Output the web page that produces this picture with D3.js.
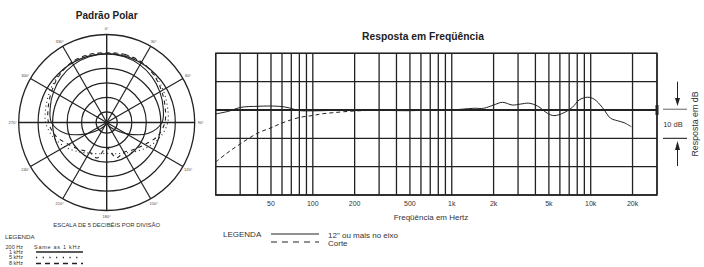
<!DOCTYPE html>
<html>
<head>
<meta charset="utf-8">
<script src="https://cdn.jsdelivr.net/npm/d3@7"></script>
<style>
  body { margin: 0; background: #fff; }
  svg { display: block; font-family: "Liberation Sans", Arial, sans-serif; }
</style>
</head>
<body>
<script>
// frequency response (12" or more on axis)
const respFreq = [20, 25, 30, 40, 49, 60, 68, 80, 100, 200, 500, 700, 1000, 1200, 1440, 1700, 2000, 2320, 2730, 3140, 3580, 4140, 4880, 5440, 6430, 7390, 8240, 9470, 10600, 12100, 13900, 15600, 17400, 19600];
const respDb   = [-1.4, -0.4, 0.9, 1.3, 1.4, 1.2, 0.7, -0.2, -0.3, 0, -0.25, 0, 0, 0.3, 0.6, 0.6, 1.75, 2.7, 1.75, 2.1, 2.4, 1.4, -1.15, -2.0, -0.95, 0.95, 3.5, 4.5, 3.8, 0.95, -2.9, -3.8, -4.5, -5.9];
// low cut ("Corte")
const cutFreq = [20, 23.7, 30, 40, 50, 60, 80, 100, 115, 144, 200, 290, 500, 1000];
const cutDb   = [-18.4, -15.5, -12, -8.2, -6.3, -4.6, -2.65, -1.95, -1.4, -0.9, -0.35, -0.1, 0, 0];

const freqTicks = [50, 100, 200, 500, 1000, 2000, 5000, 10000, 20000];
const freqTickLabels = ["50", "100", "200", "500", "1k", "2k", "5k", "10k", "20k"];
const dbGrid = [20, 10, 0, -10, -20, -30];

// polar pattern, angle from front (one side, mirrored)
const polarAngles = [0, 15, 30, 45, 60, 75, 90, 105, 120, 135, 150, 165, 180];
const pol1k = [0, -0.2, -0.7, -1.5, -2.5, -3.5, -4.6, -9, -16, -20.5, -22.5, -23.5, -24];
const pol5k = [0.2, 0.4, 0.3, -0.4, -1.2, -2.0, -2.6, -4.5, -7, -9.5, -11.5, -12.5, -13];
const pol8k = [0.4, 0.6, 0.4, -0.6, -1.8, -2.8, -3.6, -5.5, -8.5, -10.5, -11.8, -11, -15];
const ringDb = [0, -5, -10, -15, -20];
const spokeAngles = [0, 30, 60, 90, 120, 150, 180, 210, 240, 270, 300, 330];

const W = 704, H = 267;
const svg = d3.select("body").append("svg")
    .attr("width", W)
    .attr("height", H);

const ink = "#222";

// ---------- frequency response ----------
const x = d3.scaleLog().domain([20, 30000]).range([215.7, 657]);
const y = d3.scaleLinear().domain([20, -30]).range([53.3, 195]);

const fr = svg.append("g");

fr.append("text")
    .attr("x", 423).attr("y", 39.5)
    .attr("text-anchor", "middle")
    .attr("font-size", 10.3).attr("font-weight", "bold")
    .attr("fill", ink)
    .text("Resposta em Freqüência");

// vertical grid
fr.selectAll("line.vg")
  .data(x.ticks())
  .enter().append("line")
    .attr("class", "vg")
    .attr("x1", d => x(d)).attr("x2", d => x(d))
    .attr("y1", y(20)).attr("y2", y(-30))
    .attr("stroke", ink).attr("stroke-width", 1.3);

// horizontal grid
fr.selectAll("line.hg")
  .data(dbGrid)
  .enter().append("line")
    .attr("class", "hg")
    .attr("x1", x(20)).attr("x2", x(30000))
    .attr("y1", d => y(d)).attr("y2", d => y(d))
    .attr("stroke", ink)
    .attr("stroke-width", d => d === 0 ? 2.2 : 1.3);

fr.append("rect")
    .attr("x", x(20)).attr("y", y(20))
    .attr("width", x(30000) - x(20)).attr("height", y(-30) - y(20))
    .attr("fill", "none").attr("stroke", ink).attr("stroke-width", 1.4);

// small reference tick at 0 dB on right border
fr.append("line")
    .attr("x1", x(30000)).attr("x2", x(30000))
    .attr("y1", y(0) - 5).attr("y2", y(0) + 5)
    .attr("stroke", ink).attr("stroke-width", 3);

const line = d3.line()
    .x(d => x(d[0]))
    .y(d => y(d[1]))
    .curve(d3.curveCatmullRom.alpha(0.5));

fr.append("path")
    .datum(cutFreq.map((f, i) => [f, cutDb[i]]))
    .attr("d", line)
    .attr("fill", "none").attr("stroke", ink).attr("stroke-width", 1)
    .attr("stroke-dasharray", "4,3");

fr.append("path")
    .datum(respFreq.map((f, i) => [f, respDb[i]]))
    .attr("d", line)
    .attr("fill", "none").attr("stroke", ink).attr("stroke-width", 1);

// tick labels
fr.selectAll("text.tick")
  .data(freqTicks)
  .enter().append("text")
    .attr("class", "tick")
    .attr("x", d => x(d)).attr("y", 206)
    .attr("text-anchor", "middle")
    .attr("font-size", 7).attr("fill", "#333")
    .text((d, i) => freqTickLabels[i]);

fr.append("text")
    .attr("x", 431).attr("y", 220)
    .attr("text-anchor", "middle")
    .attr("font-size", 8).attr("fill", "#333")
    .text("Freqüência em Hertz");

// legend
fr.append("text")
    .attr("x", 223).attr("y", 237)
    .attr("font-size", 8).attr("fill", "#333")
    .text("LEGENDA");
fr.append("line")
    .attr("x1", 271).attr("x2", 319).attr("y1", 234).attr("y2", 234)
    .attr("stroke", ink).attr("stroke-width", 1);
fr.append("text")
    .attr("x", 328).attr("y", 238)
    .attr("font-size", 8).attr("fill", "#333")
    .text("12\" ou mais no eixo");
fr.append("line")
    .attr("x1", 271).attr("x2", 319).attr("y1", 242).attr("y2", 242)
    .attr("stroke", ink).attr("stroke-width", 1)
    .attr("stroke-dasharray", "6,5");
fr.append("text")
    .attr("x", 328).attr("y", 245.5)
    .attr("font-size", 8).attr("fill", "#333")
    .text("Corte");

// 10 dB scale marker
const sm = svg.append("g");
sm.append("line")
    .attr("x1", 663).attr("x2", 687).attr("y1", y(0) - 0.7).attr("y2", y(0) - 0.7)
    .attr("stroke", "#888").attr("stroke-width", 1.3);
sm.append("line")
    .attr("x1", 663).attr("x2", 687).attr("y1", y(-10)).attr("y2", y(-10))
    .attr("stroke", ink).attr("stroke-width", 1.1);
sm.append("line")
    .attr("x1", 677.5).attr("x2", 677.5).attr("y1", 81.7).attr("y2", 99)
    .attr("stroke", ink).attr("stroke-width", 1);
sm.append("path")
    .attr("d", "M675,98 L680,98 L677.5,106 Z").attr("fill", ink);
sm.append("line")
    .attr("x1", 677.5).attr("x2", 677.5).attr("y1", 149).attr("y2", 166)
    .attr("stroke", ink).attr("stroke-width", 1);
sm.append("path")
    .attr("d", "M675,150 L680,150 L677.5,141 Z").attr("fill", ink);
sm.append("text")
    .attr("x", 673).attr("y", 126.5)
    .attr("text-anchor", "middle")
    .attr("font-size", 7.5).attr("fill", "#333")
    .text("10 dB");
sm.append("text")
    .attr("transform", "translate(698,124) rotate(-90)")
    .attr("text-anchor", "middle")
    .attr("font-size", 8.8).attr("fill", "#333")
    .text("Resposta em dB");

// ---------- polar pattern ----------
const cx = 106.7, cy = 122.5, rOuter = 88;
const r = d3.scaleLinear().domain([-20, 0]).range([10.6, 68.6]);
const rr = db => Math.max(0, r(db));

const pg = svg.append("g").attr("transform", "translate(" + cx + "," + cy + ")");

svg.append("text")
    .attr("x", cx).attr("y", 19)
    .attr("text-anchor", "middle")
    .attr("font-size", 10).attr("font-weight", "bold")
    .attr("fill", ink)
    .text("Padrão Polar");

pg.selectAll("circle.ring")
  .data(ringDb)
  .enter().append("circle")
    .attr("class", "ring")
    .attr("r", d => r(d))
    .attr("fill", "none").attr("stroke", ink).attr("stroke-width", 1.2);

pg.append("circle")
    .attr("r", rOuter)
    .attr("fill", "none").attr("stroke", ink).attr("stroke-width", 1.3);

pg.selectAll("line.spoke")
  .data(spokeAngles)
  .enter().append("line")
    .attr("class", "spoke")
    .attr("x1", 0).attr("y1", 0)
    .attr("x2", d => rOuter * Math.sin(d * Math.PI / 180))
    .attr("y2", d => -rOuter * Math.cos(d * Math.PI / 180))
    .attr("stroke", ink).attr("stroke-width", d => d % 90 === 0 ? 1.4 : 1.2);

pg.selectAll("text.ang")
  .data(spokeAngles)
  .enter().append("text")
    .attr("class", "ang")
    .attr("x", d => 94 * Math.sin(d * Math.PI / 180))
    .attr("y", d => -94 * Math.cos(d * Math.PI / 180) + 1.5)
    .attr("text-anchor", "middle")
    .attr("font-size", 4).attr("fill", "#444")
    .text(d => d + "°");

function polarPoints(vals) {
  const pts = polarAngles.map((a, i) => [a, vals[i]]);
  const back = polarAngles.slice(0, -1).reverse().map(a => [360 - a, vals[polarAngles.indexOf(a)]]);
  return pts.concat(back);
}
const radial = d3.lineRadial()
    .angle(d => d[0] * Math.PI / 180)
    .radius(d => rr(d[1]))
    .curve(d3.curveCatmullRomClosed.alpha(0.5));

pg.append("path")
    .datum(polarPoints(pol1k).slice(0, -1))
    .attr("d", radial)
    .attr("fill", "none").attr("stroke", ink).attr("stroke-width", 1.1);
pg.append("path")
    .datum(polarPoints(pol5k).slice(0, -1))
    .attr("d", radial)
    .attr("fill", "none").attr("stroke", ink).attr("stroke-width", 1.1)
    .attr("stroke-dasharray", "1,3");
pg.append("path")
    .datum(polarPoints(pol8k).slice(0, -1))
    .attr("d", radial)
    .attr("fill", "none").attr("stroke", ink).attr("stroke-width", 1.1)
    .attr("stroke-dasharray", "4,4");

svg.append("text")
    .attr("x", cx).attr("y", 226.5)
    .attr("text-anchor", "middle")
    .attr("font-size", 5.9).attr("fill", "#333")
    .text("ESCALA DE 5 DECIBÉIS POR DIVISÃO");

// polar legend
const pl = svg.append("g").attr("font-size", 5.5).attr("fill", "#333");
pl.append("text").attr("x", 5).attr("y", 239).attr("font-size", 6.2).text("LEGENDA");
const legRows = ["200 Hz", "1 kHz", "5 kHz", "8 kHz"];
const legY = [248.5, 253.5, 259, 264.8];
pl.selectAll("text.lr")
  .data(legRows)
  .enter().append("text")
    .attr("class", "lr")
    .attr("x", 23).attr("y", (d, i) => legY[i])
    .attr("text-anchor", "end")
    .text(d => d);
pl.append("text").attr("x", 34).attr("y", 248.5)
    .attr("textLength", 46).attr("lengthAdjust", "spacing")
    .text("Same as 1 kHz");
pl.append("line").attr("x1", 36).attr("x2", 83).attr("y1", 252).attr("y2", 252)
    .attr("stroke", ink).attr("stroke-width", 1.3);
pl.append("line").attr("x1", 36).attr("x2", 83).attr("y1", 257.5).attr("y2", 257.5)
    .attr("stroke", ink).attr("stroke-width", 1.3).attr("stroke-dasharray", "1.2,5.5");
pl.append("line").attr("x1", 36).attr("x2", 83).attr("y1", 263.5).attr("y2", 263.5)
    .attr("stroke", ink).attr("stroke-width", 1.3).attr("stroke-dasharray", "5,4");
</script>
</body>
</html>
